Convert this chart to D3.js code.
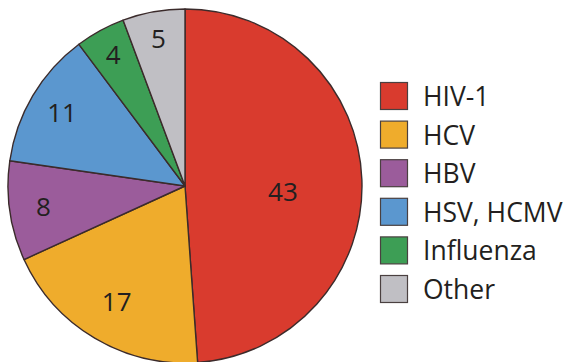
<!DOCTYPE html>
<html>
<head>
<meta charset="utf-8">
<script src="https://cdn.jsdelivr.net/npm/d3@7"></script>
<style>
  html, body { margin: 0; padding: 0; background: #ffffff; }
  svg { display: block; }
</style>
</head>
<body>
<svg id="chart" width="573" height="362"></svg>
<script>
// Share of approved antiviral drugs by target virus
const categories = ["HIV-1", "HCV", "HBV", "HSV, HCMV", "Influenza", "Other"];
const values = [43, 17, 8, 11, 4, 5];
const colors = ["#d93b2e", "#efac2c", "#9b5c9b", "#5b97cf", "#3d9e55", "#c0bfc4"];

const svg = d3.select("#chart");
const cx = 185, cy = 186, radius = 177;

const color = d3.scaleOrdinal().domain(categories).range(colors);

const pie = d3.pie()
  .value((d, i) => values[i])
  .sort(null);

const arcs = pie(categories);

const arc = d3.arc().innerRadius(0).outerRadius(radius);

const g = svg.append("g").attr("transform", `translate(${cx},${cy})`);

g.selectAll("path.slice")
  .data(arcs)
  .join("path")
  .attr("class", "slice")
  .attr("d", arc)
  .attr("fill", d => color(d.data))
  .attr("stroke", "#3b2b2b")
  .attr("stroke-width", 1.4)
  .attr("stroke-linejoin", "round");

// Wide slices get their label nearer the centre, narrow ones near the rim
const labelRadius = d => {
  const span = d.endAngle - d.startAngle;
  if (span > 2) return 98;
  if (span > 1) return 134;
  if (span > 0.4) return 143;
  return 150;
};
// The half-pie label sits a little below its bisector
const labelDrop = d => (d.endAngle - d.startAngle > 2 ? 9 : 0);

g.selectAll("text.value")
  .data(arcs)
  .join("text")
  .attr("class", "value")
  .attr("x", d => labelRadius(d) * Math.sin((d.startAngle + d.endAngle) / 2))
  .attr("y", d => -labelRadius(d) * Math.cos((d.startAngle + d.endAngle) / 2) + labelDrop(d))
  .attr("dy", "0.36em")
  .attr("text-anchor", "middle")
  .attr("font-family", "'Open Sans', 'Noto Sans', sans-serif")
  .attr("font-size", 26)
  .attr("fill", "#231f20")
  .text((d, i) => values[i]);

// Legend
const legend = svg.append("g").attr("transform", "translate(380,82)");
const rowStep = 38.6, box = 27;

const rows = legend.selectAll("g.row")
  .data(categories)
  .join("g")
  .attr("class", "row")
  .attr("transform", (d, i) => `translate(0,${i * rowStep})`);

rows.append("rect")
  .attr("x", 0.5).attr("y", 0.5)
  .attr("width", box).attr("height", box)
  .attr("fill", d => color(d))
  .attr("stroke", "#4a4040")
  .attr("stroke-width", 1.2);

rows.append("text")
  .attr("x", 43)
  .attr("y", box / 2 + 1)
  .attr("dy", "0.36em")
  .attr("font-family", "'Open Sans', 'Noto Sans', sans-serif")
  .attr("font-size", 26.5)
  .attr("fill", "#231f20")
  .text(d => d);
</script>
</body>
</html>
